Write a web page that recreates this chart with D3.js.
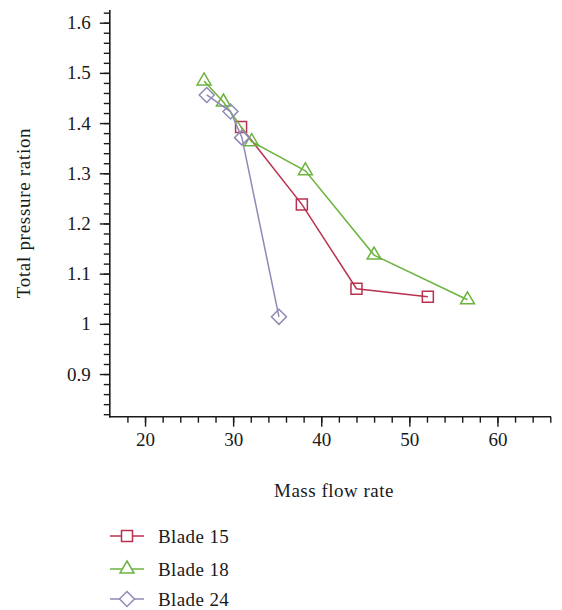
<!DOCTYPE html>
<html>
<head>
<meta charset="utf-8">
<script src="https://cdn.jsdelivr.net/npm/d3@7"></script>
<style>
	body { margin: 0; background: #fff; }
	svg text { font-family: "Liberation Serif", "DejaVu Serif", serif; fill: #1a1a1a; }
</style>
</head>
<body>
<div id="chart"></div>
<script>
// donnees
const series = ["Blade 15", "Blade 18", "Blade 24"];
const blade15 = [[30.9, 1.392], [37.8, 1.238], [44.0, 1.070], [52.1, 1.054]];
const blade18 = [[26.7, 1.484], [28.9, 1.442], [32.1, 1.363], [38.2, 1.305], [46.0, 1.137], [56.6, 1.048]];
const blade24 = [[27.0, 1.456], [29.7, 1.423], [31.0, 1.371], [35.2, 1.014]];
const xTicks = [20, 30, 40, 50, 60];
const yTicks = [0.9, 1, 1.1, 1.2, 1.3, 1.4, 1.5, 1.6];

const width = 562, height = 610;

const svg = d3.select("#chart")
	.append("svg")
	.attr("width", width)
	.attr("height", height);

const x = d3.scaleLinear().domain([16, 66]).range([109.8, 550.3]);
const y = d3.scaleLinear().domain([0.815, 1.625]).range([416.7, 10.15]);

const axisColor = "#1a1a1a";

// axe Y
const gy = svg.append("g").attr("transform", "translate(109.8,0)");
gy.call(d3.axisLeft(y).tickValues(d3.range(0.82, 1.625, 0.02)).tickSize(6).tickFormat(""));
gy.append("g").call(d3.axisLeft(y).tickValues(yTicks).tickSize(10).tickPadding(9)
	.tickFormat(d => d3.format("~g")(d)));
gy.selectAll(".domain").remove();
gy.selectAll("line").attr("stroke", axisColor).attr("stroke-width", 1.4);
gy.selectAll("text").style("font-size", "19px");
svg.append("line")
	.attr("x1", 109.8).attr("x2", 109.8)
	.attr("y1", 10).attr("y2", 417.4)
	.attr("stroke", axisColor).attr("stroke-width", 1.6);

// axe X
const gx = svg.append("g").attr("transform", "translate(0,416.7)");
gx.call(d3.axisBottom(x).tickValues(d3.range(18, 66.1, 2)).tickSize(6).tickFormat(""));
gx.append("g").call(d3.axisBottom(x).tickValues(xTicks).tickSize(10).tickPadding(6));
gx.selectAll(".domain").remove();
gx.selectAll("line").attr("stroke", axisColor).attr("stroke-width", 1.4);
gx.selectAll("text").style("font-size", "19px");
svg.append("line")
	.attr("x1", 109).attr("x2", 551)
	.attr("y1", 416.7).attr("y2", 416.7)
	.attr("stroke", axisColor).attr("stroke-width", 1.6);

// titres
svg.append("text")
	.attr("x", 334).attr("y", 497)
	.attr("text-anchor", "middle")
	.style("font-size", "19px")
	.style("letter-spacing", "0.5px")
	.text("Mass flow rate");

svg.append("text")
	.attr("transform", "translate(30,213) rotate(-90)")
	.attr("text-anchor", "middle")
	.style("font-size", "19px")
	.style("letter-spacing", "0.7px")
	.text("Total pressure ration");

// series
const colors = ["#b8324f", "#6db33f", "#8f8ab5"];
const symbols = [
	"M-5.5,-5.5H5.5V5.5H-5.5Z",
	"M0,-8L7,4H-7Z",
	"M0,-7.5L7.5,0L0,7.5L-7.5,0Z"
];
const data = [blade15, blade18, blade24];

const line = d3.line().x(d => x(d[0])).y(d => y(d[1]));

const courbes = svg.append("g");

data.forEach(function(pts, i){
	courbes.append("path")
		.datum(pts)
		.attr("d", line)
		.attr("fill", "none")
		.attr("stroke", colors[i])
		.attr("stroke-width", 1.5);
	courbes.selectAll(".m" + i)
		.data(pts)
		.enter()
		.append("path")
		.attr("class", "m" + i)
		.attr("d", symbols[i])
		.attr("transform", d => "translate(" + x(d[0]) + "," + y(d[1]) + ")")
		.attr("fill", "none")
		.attr("stroke", colors[i])
		.attr("stroke-width", 1.5);
});

// legende
const legende = svg.append("g");
const rowsY = [536, 569, 599];
series.forEach(function(name, i){
	const row = legende.append("g").attr("transform", "translate(0," + rowsY[i] + ")");
	row.append("line")
		.attr("x1", 110).attr("x2", 144)
		.attr("stroke", colors[i]).attr("stroke-width", 1.5);
	row.append("path")
		.attr("d", symbols[i])
		.attr("transform", "translate(127,0)")
		.attr("fill", "#fff")
		.attr("stroke", colors[i])
		.attr("stroke-width", 1.5);
	row.append("text")
		.attr("x", 158).attr("y", 6.5)
		.style("font-size", "19px")
		.style("letter-spacing", "0.4px")
		.text(name);
});
</script>
</body>
</html>
